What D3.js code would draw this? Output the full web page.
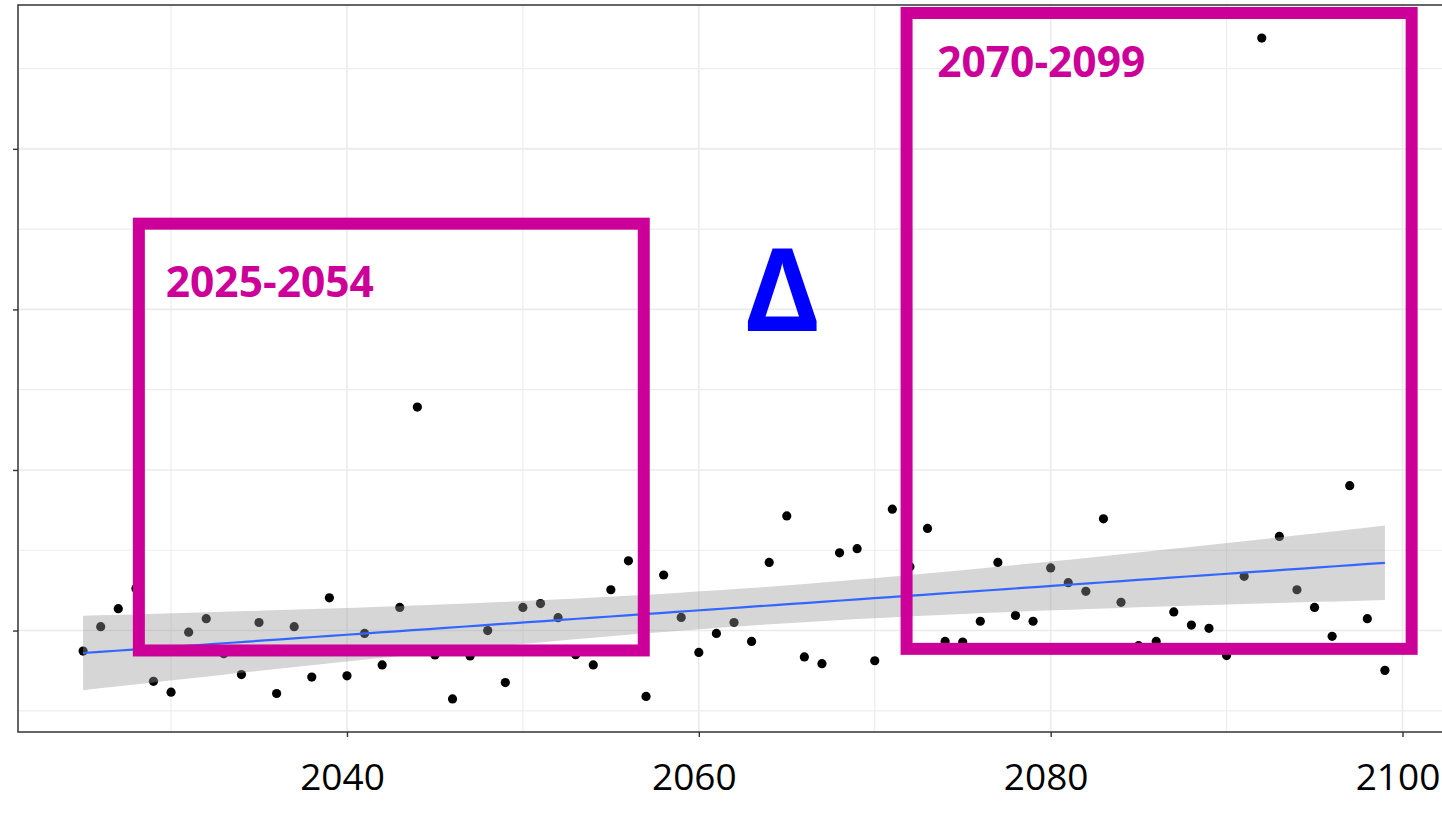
<!DOCTYPE html>
<html>
<head>
<meta charset="utf-8">
<script src="https://cdn.jsdelivr.net/npm/d3@7/dist/d3.min.js"></script>
<style>
  body { margin: 0; background: #fff; }
  svg { display: block; }
</style>
</head>
<body>
<div id="chart"></div>
<script>
const width = 1442
const height = 829

// yearly values (y axis labels are cut off in the source, units arbitrary)
const years = [2025, 2026, 2027, 2028, 2029, 2030, 2031, 2032, 2033, 2034,
  2035, 2036, 2037, 2038, 2039, 2040, 2041, 2042, 2043, 2044,
  2045, 2046, 2047, 2048, 2049, 2050, 2051, 2052, 2053, 2054,
  2055, 2056, 2057, 2058, 2059, 2060, 2061, 2062, 2063, 2064,
  2065, 2066, 2067, 2068, 2069, 2070, 2071, 2072, 2073, 2074,
  2075, 2076, 2077, 2078, 2079, 2080, 2081, 2082, 2083, 2084,
  2085, 2086, 2087, 2088, 2089, 2090, 2091, 2092, 2093, 2094,
  2095, 2096, 2097, 2098, 2099];
const values = [93.6, 101.2, 106.8, 113.1, 84.2, 80.8, 99.5, 103.7, 92.8, 86.3,
  102.5, 80.4, 101.2, 85.5, 110.2, 85.9, 99.1, 89.3, 107.2, 169.6,
  92.4, 78.7, 92.1, 100.0, 83.8, 107.2, 108.4, 104.0, 92.5, 89.3,
  112.7, 121.7, 79.5, 117.3, 104.1, 93.2, 99.1, 102.5, 96.6, 121.2,
  135.7, 91.8, 89.7, 124.2, 125.5, 90.6, 137.8, 119.9, 131.8, 96.6,
  96.4, 102.9, 121.2, 104.7, 102.9, 119.5, 114.9, 112.2, 134.8, 108.8,
  95.3, 96.6, 105.8, 101.7, 100.7, 92.2, 116.9, 284.5, 129.3, 112.7,
  107.2, 98.2, 145.1, 103.7, 87.6];

const xTicks = [2040, 2060, 2080, 2100];
const xMinor = [2030, 2050, 2070, 2090];
const yTicks = [100, 150, 200, 250];
const yMinor = [75, 125, 175, 225, 275];

// the two averaging windows drawn over the plot
const periodLabels = ['2025-2054', '2070-2099'];
const periodYears = [[2028.17, 2056.87], [2071.81, 2100.52]];
const periodValues = [[93.8, 226.7], [94.3, 292.3]];
const periodLabelAt = [[2029.7, 204], [2073.55, 272.3]];
const deltaAt = [2064.75, 193.4];

const data = years.map((yr, i) => ({year: yr, value: values[i]}));

const panel = {left: 18, right: 1450, top: 5, bottom: 732};

// ggplot style 5% expansion
const xExt = d3.extent(years), yExt = d3.extent(values);
const xPad = (xExt[1] - xExt[0]) * 0.05, yPad = (yExt[1] - yExt[0]) * 0.05;

const x = d3.scaleLinear().domain([xExt[0] - xPad, xExt[1] + xPad]).range([panel.left, panel.right]);
const y = d3.scaleLinear().domain([yExt[0] - yPad, yExt[1] + yPad]).range([panel.bottom, panel.top]);

const svg = d3.select('#chart').append('svg').attr('width', width).attr('height', height);

svg.append('clipPath').attr('id', 'panel-clip')
  .append('rect')
  .attr('x', panel.left).attr('y', panel.top)
  .attr('width', panel.right - panel.left).attr('height', panel.bottom - panel.top);

const plot = svg.append('g').attr('clip-path', 'url(#panel-clip)');

// grid
plot.selectAll('.vminor').data(xMinor).enter().append('line')
  .attr('x1', d => x(d)).attr('x2', d => x(d))
  .attr('y1', panel.top).attr('y2', panel.bottom)
  .attr('stroke', '#ededed').attr('stroke-width', 1.2);
plot.selectAll('.vmajor').data(xTicks).enter().append('line')
  .attr('x1', d => x(d)).attr('x2', d => x(d))
  .attr('y1', panel.top).attr('y2', panel.bottom)
  .attr('stroke', '#ebebeb').attr('stroke-width', 1.6);
plot.selectAll('.hminor').data(yMinor).enter().append('line')
  .attr('y1', d => y(d)).attr('y2', d => y(d))
  .attr('x1', panel.left).attr('x2', panel.right)
  .attr('stroke', '#ededed').attr('stroke-width', 1.2);
plot.selectAll('.hmajor').data(yTicks).enter().append('line')
  .attr('y1', d => y(d)).attr('y2', d => y(d))
  .attr('x1', panel.left).attr('x2', panel.right)
  .attr('stroke', '#ebebeb').attr('stroke-width', 1.6);

// points
plot.selectAll('circle').data(data).enter().append('circle')
  .attr('cx', d => x(d.year))
  .attr('cy', d => y(d.value))
  .attr('r', 4.6)
  .attr('fill', '#000');

// linear fit + 95% band, like geom_smooth(method = "lm")
const n = data.length;
const mx = d3.mean(years), my = d3.mean(values);
const sxx = d3.sum(years, v => (v - mx) * (v - mx));
const sxy = d3.sum(data, d => (d.year - mx) * (d.value - my));
const slope = sxy / sxx;
const icpt = my - slope * mx;
const sse = d3.sum(data, d => Math.pow(d.value - (icpt + slope * d.year), 2));
const s = Math.sqrt(sse / (n - 2));
const tq = 1.993; // t(0.975, df = 73)

const smooth = d3.range(80).map(i => {
  const xv = xExt[0] + (xExt[1] - xExt[0]) * i / 79;
  const fit = icpt + slope * xv;
  const se = s * Math.sqrt(1 / n + Math.pow(xv - mx, 2) / sxx);
  return {x: xv, fit: fit, lo: fit - tq * se, hi: fit + tq * se};
});

plot.append('path')
  .datum(smooth)
  .attr('d', d3.area().x(d => x(d.x)).y0(d => y(d.lo)).y1(d => y(d.hi)))
  .attr('fill', '#999999')
  .attr('fill-opacity', 0.4);

plot.append('path')
  .datum(smooth)
  .attr('d', d3.line().x(d => x(d.x)).y(d => y(d.fit)))
  .attr('fill', 'none')
  .attr('stroke', '#3366FF')
  .attr('stroke-width', 2.2);

// axes: ticks only on y (labels are cropped away in the source)
const yAxis = svg.append('g')
  .attr('transform', 'translate(' + panel.left + ',0)')
  .call(d3.axisLeft(y).tickValues(yTicks).tickSize(5).tickFormat(''));
yAxis.select('.domain').remove();
yAxis.selectAll('line').attr('stroke', '#333').attr('stroke-width', 1.4);

const xAxis = svg.append('g')
  .attr('transform', 'translate(0,' + panel.bottom + ')')
  .call(d3.axisBottom(x).tickValues(xTicks).tickSize(5).tickPadding(27).tickFormat(d3.format('d')));
xAxis.select('.domain').remove();
xAxis.selectAll('line').attr('stroke', '#333').attr('stroke-width', 1.4);
xAxis.selectAll('text')
  .attr('dx', -5)
  .style('font-family', '"Open Sans", "Noto Sans", sans-serif')
  .style('font-size', '37px')
  .attr('fill', '#000');

// panel border
svg.append('rect')
  .attr('x', panel.left).attr('y', panel.top)
  .attr('width', panel.right - panel.left).attr('height', panel.bottom - panel.top)
  .attr('fill', 'none')
  .attr('stroke', '#333')
  .attr('stroke-width', 1.5);

// period boxes
svg.selectAll('.period').data(periodLabels).enter().append('rect')
  .attr('class', 'period')
  .attr('x', (d, i) => x(periodYears[i][0]))
  .attr('y', (d, i) => y(periodValues[i][1]))
  .attr('width', (d, i) => x(periodYears[i][1]) - x(periodYears[i][0]))
  .attr('height', (d, i) => y(periodValues[i][0]) - y(periodValues[i][1]))
  .attr('fill', 'none')
  .attr('stroke', '#CC0099')
  .attr('stroke-width', 12);

svg.selectAll('.period-label').data(periodLabels).enter().append('text')
  .attr('class', 'period-label')
  .attr('x', (d, i) => x(periodLabelAt[i][0]))
  .attr('y', (d, i) => y(periodLabelAt[i][1]))
  .style('font-family', '"Open Sans", "Noto Sans", sans-serif')
  .style('font-size', '42.5px')
  .style('font-weight', 'bold')
  .attr('fill', '#CC0099')
  .text(d => d);

svg.append('text')
  .attr('x', x(deltaAt[0]))
  .attr('y', y(deltaAt[1]))
  .attr('text-anchor', 'middle')
  .style('font-family', '"Open Sans", "Noto Sans", sans-serif')
  .style('font-size', '114px')
  .style('font-weight', 'bold')
  .attr('fill', '#0000FF')
  .text('Δ');
</script>
</body>
</html>
